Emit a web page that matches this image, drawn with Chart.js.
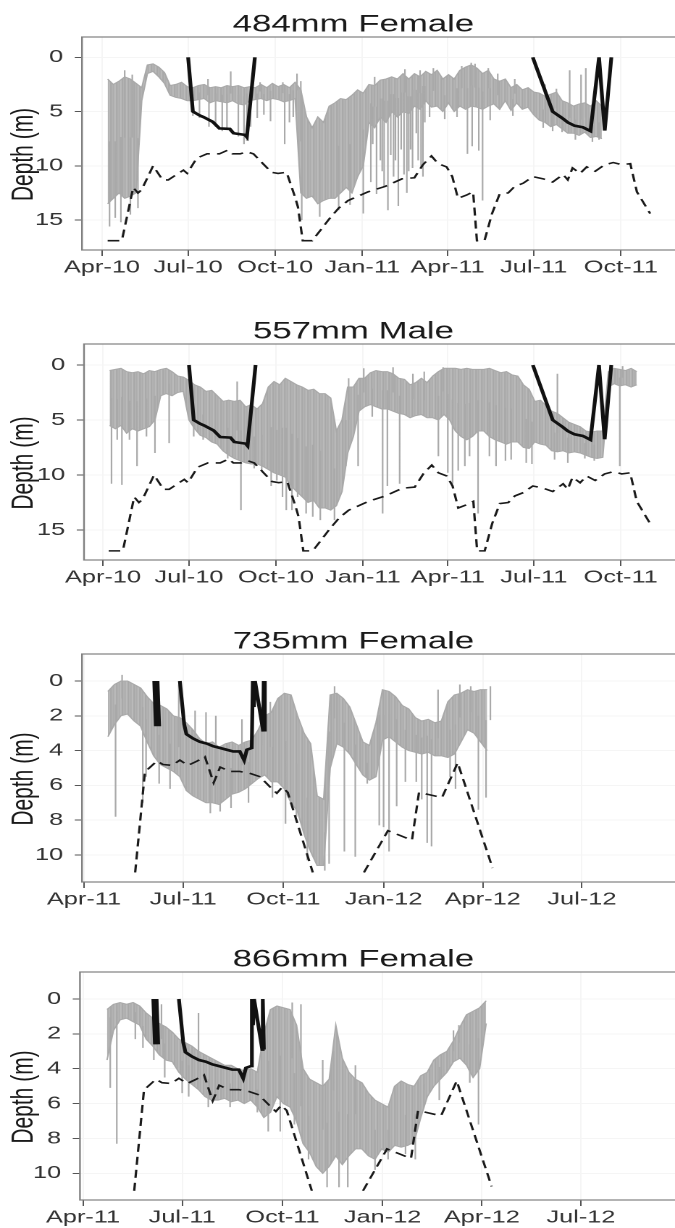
<!DOCTYPE html>
<html>
<head>
<meta charset="utf-8">
<title>Depth traces</title>
<script src="https://cdn.jsdelivr.net/npm/chart.js@4.4.1/dist/chart.umd.min.js"></script>
<style>
  html, body { margin: 0; padding: 0; background: #fff; overflow: hidden; width: 675px; height: 1228px; }
  /* the original figure is stretched sideways, so each chart is drawn narrow and widened */
  .panel { position: absolute; left: 0; width: 496px; transform: scaleX(1.4485); transform-origin: 0 0; }
</style>
</head>
<body>
<div class="panel" id="p1"><canvas></canvas></div>
<div class="panel" id="p2"><canvas></canvas></div>
<div class="panel" id="p3"><canvas></canvas></div>
<div class="panel" id="p4"><canvas></canvas></div>
<script>
// Days are counted from 1 Jan 2010
const monthNames = ['Jan', 'Feb', 'Mar', 'Apr', 'May', 'Jun', 'Jul', 'Aug', 'Sep', 'Oct', 'Nov', 'Dec'];
const xLabels2010 = ['Apr-10', 'Jul-10', 'Oct-10', 'Jan-11', 'Apr-11', 'Jul-11', 'Oct-11'];
const xLabels2011 = ['Apr-11', 'Jul-11', 'Oct-11', 'Jan-12', 'Apr-12', 'Jul-12'];
const yTicksDeep = [0, 5, 10, 15];
const yTicksShallow = [0, 2, 4, 6, 8, 10];

// dashed line, 2010-2011 fish
const dashDays2010 = [96, 111, 123, 128, 132, 144, 154, 160, 176, 180, 190, 201, 214, 223, 228, 236, 243, 250, 260, 269,
  276, 285, 294, 297, 302, 312, 322, 330, 340, 350, 371, 389, 407, 420, 429, 438, 445, 454, 460, 466,
  475, 482, 486, 494, 502, 510, 519, 526, 535, 545, 556, 566, 577, 582, 587, 595, 602, 611, 621, 630,
  639, 648, 655, 669];
const dashDepth2010 = [16.9, 16.9, 12.0, 12.5, 12.2, 10.0, 11.3, 11.3, 10.4, 10.7, 9.3, 8.9, 8.9, 8.55, 8.9, 8.9, 8.7, 8.9, 9.8, 10.6,
  10.7, 10.6, 12.9, 13.8, 16.9, 16.9, 15.8, 14.9, 13.9, 13.2, 12.4, 11.9, 11.2, 11.1, 9.9, 9.1, 9.8, 10.1, 11.0, 13.0,
  12.7, 12.4, 16.9, 16.9, 14.4, 12.6, 12.5, 11.9, 11.6, 11.0, 11.2, 11.5, 10.8, 11.3, 10.2, 10.7, 10.1, 10.5, 9.9, 9.7,
  9.9, 9.8, 12.4, 14.4];

// solid line, 2010-2011 fish
const solidDays2010 = [181, 186, 193, 197, 207, 214, 225, 229, 241, 243, 251.5, 400, 545, 566, 576, 582, 589, 598, 606, 615, 621, 628];
const solidDepth2010 = [0, 5.0, 5.35, 5.5, 5.95, 6.55, 6.6, 7.0, 7.15, 7.35, 0, null, 0, 5.0, 5.6, 6.0, 6.3, 6.45, 6.8, 0, 6.75, 0];

// dashed line, 2011-2012 fish
const dashDays2011 = [502, 511, 514, 522, 527.5, 536, 543, 550.5, 559, 566, 574, 580, 589, 598, 607, 616.5, 626, 632, 637, 642,
  651, 665, 690, 712, 734, 756, 762.5, 783.6, 798, 830];
const dashDepth2011 = [11.0, 5.2, 5.05, 4.6, 4.8, 4.85, 4.55, 4.85, 4.6, 4.35, 5.85, 4.95, 5.2, 5.2, 5.3, 5.5, 6.1, 6.45, 6.1, 6.4,
  8.2, 11.0, null, 11.0, 8.6, 9.15, 6.4, 6.7, 4.7, 10.75];

// solid line, 2011-2012 fish
const solidDays2011 = [519.5, 521, 522.5, 524, 533, 543, 547, 549, 555, 561.5, 568, 573.6, 580, 586, 592, 598, 602, 604.5, 609, 610,
  611, 612, 619.5, 620, 621];
const solidDepth2011 = [0, 2.6, 0, 2.6, null, 0, 2.5, 3.05, 3.3, 3.5, 3.6, 3.75, 3.85, 3.95, 4.05, 4.05, 4.55, 3.95, 3.85, 0,
  1.5, 0, 2.9, 0, 2.9];

// depth records: usual range (shallow / deep edge) every 6 days from the start day,
// plus the single dives and rises that stick out of it
const bandStep = 6;

const start484 = 96;
const shallow484 = [2.0, 2.5, 2.2, 1.8, 2.0, 2.4, 2.8, 0.7, 0.6, 0.9, 1.4, 2.6, 2.5, 2.3, 2.7, 2.8, 2.6, 2.5, 2.8, 2.7,
  2.8, 2.6, 2.7, 2.6, 2.8, 2.7, 2.8, 2.5, 2.8, 2.4, 2.7, 2.5, 2.8, 2.3, 3.0, 5.5, 6.5, 5.5, 6.0, 4.5,
  4.2, 3.8, 3.9, 3.5, 3.0, 3.3, 2.5, 2.6, 2.1, 2.0, 1.8, 2.0, 1.5, 2.0, 1.5, 1.8, 1.3, 1.6, 1.2, 2.0,
  1.6, 2.0, 1.2, 0.9, 0.7, 1.0, 1.5, 1.2, 2.0, 2.2, 2.0, 2.8, 2.5, 3.0, 2.8, 3.2, 3.3, 3.6, 3.4, 3.2,
  4.0, 4.2, 4.5, 4.3, 4.2, 4.5, 4.0, 4.5];
const deep484 = [13.5, 13.0, 12.5, 13.0, 12.8, 12.5, 4.0, 1.5, 1.3, 1.8, 2.4, 3.5, 3.7, 3.8, 4.0, 4.0, 3.9, 3.8, 4.2, 4.0,
  4.1, 4.2, 4.0, 4.3, 4.4, 4.0, 3.9, 3.8, 4.0, 3.8, 3.9, 4.1, 4.0, 3.8, 12.5, 13.0, 12.8, 13.5, 13.2, 13.0,
  13.0, 12.5, 12.0, 12.5, 11.0, 10.0, 6.0, 6.5, 5.5, 6.0, 5.0, 5.5, 5.0, 5.2, 4.5, 4.8, 4.0, 4.6, 4.5, 5.0,
  4.2, 5.0, 4.5, 4.8, 4.5, 4.6, 4.8, 4.5, 4.3, 4.8, 4.0, 4.9, 4.2, 4.8, 4.6, 5.3, 5.8, 6.0, 6.4, 6.2,
  6.6, 7.0, 7.0, 7.2, 6.9, 7.4, 7.3, 7.5];
const spikeDays484 = [98, 104, 110, 114, 120, 122, 128, 186, 193, 202, 203, 210, 217, 222, 226, 234, 240, 243, 247, 254,
  257, 261, 268, 281, 283, 288, 292, 296, 300, 301, 320, 340, 352, 366, 374, 376, 378, 380, 384, 386,
  388, 392, 395, 398, 400, 403, 406, 409, 410, 412, 414, 416, 418, 422, 424, 426, 427, 429, 431, 436,
  440, 452, 465, 470, 476, 480, 481, 484, 488, 492, 498, 500, 508, 524, 526, 556, 558, 566, 570, 576,
  584, 590, 596, 601, 608, 615];
const spikeDepth484 = [15.6, 14.8, 15.2, 1.2, 14.5, 1.6, 13.9, 5.4, 5.6, 2.0, 6.4, 6.4, 6.8, 6.7, 1.3, 7.3, 8.0, 7.7, 6.4, 5.6,
  2.3, 5.3, 5.9, 2.3, 8.0, 6.0, 5.5, 1.5, 2.2, 15.0, 14.7, 14.1, 13.6, 14.4, 11.5, 8.0, 1.8, 12.6, 9.5, 10.5,
  12.0, 14.1, 9.0, 11.0, 9.5, 13.7, 8.5, 10.8, 1.1, 12.5, 10.5, 8.5, 10.2, 7.0, 9.5, 1.2, 10.3, 11.0, 6.0, 5.5,
  1.0, 5.7, 5.5, 0.8, 8.9, 0.5, 8.2, 0.6, 8.6, 13.2, 1.0, 5.8, 1.5, 5.4, 2.0, 6.5, 2.5, 6.8, 2.9, 6.9,
  1.2, 7.6, 1.6, 1.0, 7.8, 7.6];

const start557 = 97;
const shallow557 = [0.5, 0.4, 0.3, 0.6, 0.7, 0.6, 0.8, 0.5, 0.6, 0.4, 0.3, 0.6, 1.0, 1.1, 1.4, 1.8, 2.0, 2.4, 2.3, 2.8,
  3.3, 3.2, 3.3, 3.2, 3.8, 3.6, 4.0, 3.5, 2.0, 1.5, 1.8, 1.2, 1.5, 1.8, 2.0, 2.3, 2.2, 2.6, 2.6, 3.0,
  6.0, 5.0, 2.0, 2.0, 1.2, 1.2, 0.7, 0.5, 0.6, 0.6, 0.8, 1.2, 1.3, 1.8, 1.6, 1.2, 1.6, 1.0, 0.6, 0.3,
  0.3, 0.3, 0.4, 0.3, 0.4, 0.4, 0.4, 0.3, 0.5, 0.7, 0.6, 0.9, 1.0, 1.8, 2.2, 3.3, 3.2, 3.7, 4.2, 4.4,
  4.8, 5.2, 5.4, 5.6, 6.0, 6.1, 6.0, 6.0, 0.6, 0.3, 0.4, 0.5, 0.3, 0.6];
const deep557 = [5.5, 5.8, 5.5, 6.2, 5.8, 6.0, 5.8, 5.6, 5.0, 2.8, 2.6, 2.8, 2.5, 2.4, 5.0, 5.8, 6.4, 6.6, 7.0, 7.2,
  7.8, 8.2, 8.5, 8.7, 8.9, 9.0, 9.0, 9.2, 9.5, 9.8, 10.0, 10.2, 11.0, 11.5, 12.0, 12.5, 12.3, 13.0, 13.0, 13.2,
  12.8, 11.5, 8.0, 6.5, 4.2, 3.8, 3.6, 3.8, 4.0, 4.0, 4.2, 4.4, 4.5, 4.8, 4.6, 4.5, 4.8, 4.8, 5.0, 4.5,
  5.0, 6.0, 6.5, 6.8, 6.5, 6.0, 6.0, 6.5, 6.8, 7.0, 7.2, 7.0, 7.0, 7.5, 7.6, 7.0, 7.2, 7.3, 7.8, 7.9,
  7.8, 8.0, 7.9, 8.0, 8.2, 8.4, 8.5, 8.4, 2.0, 1.7, 1.9, 1.8, 2.0, 1.8];
const spikeDays557 = [99, 105, 110, 118, 126, 136, 145, 160, 186, 196, 222, 232, 236, 250, 258, 268, 274, 280, 284, 290,
  296, 305, 312, 320, 335, 347, 350, 360, 366, 375, 386, 391, 397, 404, 418, 430, 445, 450, 455, 460,
  466, 473, 478, 487, 499, 506, 516, 522, 538, 544, 568, 571, 582, 600, 610, 637, 640];
const spikeDepth557 = [10.8, 6.8, 10.9, 6.8, 9.2, 6.5, 8.0, 7.1, 6.5, 6.8, 8.5, 1.5, 13.2, 9.4, 9.6, 11.0, 10.5, 12.0, 13.2, 13.2,
  12.0, 13.5, 13.8, 14.1, 14.1, 9.2, 1.2, 9.2, 0.3, 4.7, 13.5, 11.0, 0.2, 10.8, 0.8, 0.6, 8.3, 0.2, 9.8, 10.8,
  9.6, 9.2, 8.3, 13.5, 8.3, 9.2, 8.7, 8.6, 8.9, 9.0, 8.6, 0.8, 8.9, 8.5, 8.7, 9.2, 0.1];

const start735 = 477;
const shallow735 = [0.6, 0.2, 0.0, 0.0, 0.2, 0.4, 0.9, 1.3, 1.4, 1.6, 2.0, 2.1, 2.4, 2.8, 3.3, 3.6, 3.5, 3.8, 3.6, 3.5,
  3.7, 3.5, 3.4, 2.8, 2.0, 1.8, 1.0, 0.7, 0.8, 2.0, 3.0, 3.6, 6.6, 6.8, 0.8, 0.7, 1.0, 1.5, 2.5, 3.5,
  3.7, 2.4, 0.5, 0.6, 0.9, 1.4, 1.6, 2.1, 2.3, 2.2, 2.4, 2.3, 1.2, 0.8, 0.7, 0.5, 0.6, 0.5, 0.5];
const deep735 = [3.2, 2.5, 2.0, 1.9, 2.3, 2.6, 3.5, 4.3, 4.8, 5.0, 5.2, 5.5, 6.3, 6.6, 6.8, 7.0, 7.0, 7.1, 6.8, 6.5,
  6.4, 6.2, 5.9, 5.6, 5.4, 5.8, 5.8, 6.2, 7.0, 7.5, 8.8, 9.8, 10.6, 10.6, 5.0, 3.6, 3.8, 4.2, 4.8, 5.4,
  5.7, 5.5, 3.4, 3.2, 3.5, 3.8, 4.0, 4.1, 4.2, 4.1, 4.3, 4.3, 4.4, 4.2, 3.5, 2.8, 3.0, 3.5, 4.0];
const spikeDays735 = [484, 490, 509, 512, 524, 534, 542, 557, 567, 571, 576, 580, 590, 600, 606, 618, 626, 628, 640, 650,
  660, 676, 680, 685, 694, 704, 715, 726, 730, 735, 742, 750, 760, 765, 770, 774, 780, 791, 796, 800,
  810, 817, 824, 828];
const spikeDepth735 = [7.8, -0.35, 7.0, 5.5, 5.9, 6.2, 0.2, 1.7, 1.8, 7.6, 2.0, 7.5, 7.3, 2.2, 7.0, 1.5, 1.2, 6.7, 8.2, 7.8,
  10.3, 10.9, 10.5, 0.3, 9.8, 10.1, 5.9, 8.3, 8.4, 9.8, 7.2, 5.8, 5.8, 6.8, 9.3, 9.5, 0.5, 5.5, 6.2, 0.2,
  0.3, 7.4, 6.7, 0.3];

const start866 = 477;
const shallow866 = [0.6, 0.3, 0.2, 0.3, 0.2, 0.4, 0.8, 1.1, 1.4, 1.6, 1.9, 2.3, 2.5, 2.7, 3.0, 3.2, 3.4, 3.6, 3.8, 3.8,
  4.0, 4.1, 4.0, 4.2, 2.0, 0.6, 0.4, 0.5, 0.6, 1.5, 4.0, 4.6, 4.8, 5.0, 4.6, 1.5, 3.4, 4.2, 4.6, 4.8,
  5.4, 5.8, 6.0, 6.2, 5.0, 4.7, 4.9, 5.0, 4.4, 4.2, 3.5, 3.2, 3.0, 2.4, 1.6, 0.9, 0.7, 0.5, 0.1];
const deep866 = [3.5, 1.8, 1.2, 1.1, 1.3, 1.5, 2.3, 2.7, 3.2, 3.5, 3.6, 4.2, 4.6, 4.9, 5.2, 5.6, 5.8, 5.8, 5.7, 5.9,
  5.8, 6.0, 5.8, 6.2, 6.8, 6.5, 5.6, 6.0, 6.2, 7.0, 8.3, 8.8, 9.6, 10.0, 9.6, 9.0, 9.5, 9.0, 8.6, 8.6,
  9.0, 9.2, 8.6, 8.8, 8.4, 8.5, 8.4, 8.2, 6.8, 5.6, 5.0, 4.6, 4.2, 3.6, 3.4, 3.8, 4.5, 4.0, 1.4];
const spikeDays866 = [480, 486, 503, 510, 520, 527, 530, 546, 552, 561, 570, 590, 615, 625, 636, 647, 649, 655, 662, 675,
  679, 685, 690, 698, 705, 723, 735, 751, 760, 768, 782, 795, 800, 810, 818];
const spikeDepth866 = [5.1, 8.3, 2.3, 2.8, 3.5, 0.3, 4.5, 5.4, 5.6, 0.8, 6.2, 6.2, 6.5, 7.6, 7.6, 0.2, 7.2, 0.3, 9.2, 3.5,
  10.8, 3.0, 10.8, 10.8, 3.8, 9.8, 9.2, 8.9, 9.2, 5.2, 5.8, 1.8, 1.5, 4.8, 7.2];

// turn 'Apr-10' into a day number
function labelToDay(label) {
  const [mon, yy] = label.split('-');
  const t = Date.UTC(2000 + Number(yy), monthNames.indexOf(mon), 1);
  return Math.round((t - Date.UTC(2010, 0, 1)) / 864e5);
}

function toPoints(days, depths) {
  return days.map((d, i) => ({ x: d, y: depths[i] }));
}

function bandPoints(start, values) {
  return values.map((v, i) => ({ x: start + i * bandStep, y: v }));
}

// each spike is a thin vertical stroke from the middle of the usual range out to its tip
function spikePoints(p) {
  const pts = [];
  p.spikeDays.forEach((d, i) => {
    const k = Math.min(p.shallow.length - 1, Math.max(0, Math.round((d - p.start) / bandStep)));
    const mid = (p.shallow[k] + p.deep[k]) / 2;
    pts.push({ x: d, y: mid }, { x: d, y: p.spikeDepth[i] }, { x: d, y: null });
  });
  return pts;
}

// fine vertical hatching so the filled range reads like a dense trace
function hatch() {
  const c = document.createElement('canvas');
  c.width = 4;
  c.height = 1;
  const g = c.getContext('2d');
  ['#a4a4a4', '#b6b6b6', '#aaaaaa', '#c0c0c0'].forEach((col, i) => {
    g.fillStyle = col;
    g.fillRect(i, 0, 1, 1);
  });
  return g.createPattern(c, 'repeat');
}

Chart.defaults.font.family = "'Liberation Sans', Arial, Helvetica, sans-serif";

// box round the plotting area
const frame = {
  id: 'frame',
  afterDatasetsDraw(chart) {
    const { ctx, chartArea: a } = chart;
    ctx.save();
    ctx.strokeStyle = '#808080';
    ctx.lineWidth = 1.2;
    ctx.strokeRect(a.left, a.top, a.right - a.left, a.bottom - a.top);
    ctx.restore();
  }
};

// y axis title, sits a little below the middle like the original
const depthLabel = {
  id: 'depthLabel',
  afterDraw(chart) {
    const { ctx, chartArea: a } = chart;
    ctx.save();
    ctx.translate(16.6, (a.top + a.bottom) / 2 + 11);
    ctx.rotate(-Math.PI / 2);
    ctx.font = "21px 'Liberation Sans', Arial, sans-serif";
    ctx.fillStyle = '#1a1a1a';
    ctx.textAlign = 'center';
    ctx.textBaseline = 'middle';
    ctx.fillText('Depth (m)', 0, 0);
    ctx.restore();
  }
};

const panels = [
  { id: 'p1', title: '484mm Female', top: 9, height: 271, axisWidth: 56.6, xMin: 68.9, xMax: 728.9, yMin: -1.87, yMax: 17.76,
    xLabels: xLabels2010, yTicks: yTicksDeep, start: start484, shallow: shallow484, deep: deep484,
    spikeDays: spikeDays484, spikeDepth: spikeDepth484,
    dashDays: dashDays2010, dashDepth: dashDepth2010, solidDays: solidDays2010, solidDepth: solidDepth2010 },
  { id: 'p2', title: '557mm Male', top: 316, height: 274, axisWidth: 58, xMin: 69.9, xMax: 729.2, yMin: -1.91, yMax: 17.73,
    xLabels: xLabels2010, yTicks: yTicksDeep, start: start557, shallow: shallow557, deep: deep557,
    spikeDays: spikeDays557, spikeDepth: spikeDepth557,
    dashDays: dashDays2010, dashDepth: dashDepth2010, solidDays: solidDays2010, solidDepth: solidDepth2010 },
  { id: 'p3', title: '735mm Female', top: 626, height: 286, axisWidth: 56.6, xMin: 453.2, xMax: 1026.7, yMin: -1.55, yMax: 11.55,
    xLabels: xLabels2011, yTicks: yTicksShallow, start: start735, shallow: shallow735, deep: deep735,
    spikeDays: spikeDays735, spikeDepth: spikeDepth735,
    dashDays: dashDays2011, dashDepth: dashDepth2011, solidDays: solidDays2011, solidDepth: solidDepth2011 },
  { id: 'p4', title: '866mm Female', top: 944, height: 286, axisWidth: 55.2, xMin: 452.2, xMax: 1027.6, yMin: -1.55, yMax: 11.53,
    xLabels: xLabels2011, yTicks: yTicksShallow, start: start866, shallow: shallow866, deep: deep866,
    spikeDays: spikeDays866, spikeDepth: spikeDepth866,
    dashDays: dashDays2011, dashDepth: dashDepth2011, solidDays: solidDays2011, solidDepth: solidDepth2011 }
];

const traceGrey = '#a9a9a9';
const bandFill = hatch();

panels.forEach(p => {
  const box = document.getElementById(p.id);
  box.style.top = p.top + 'px';
  box.style.height = p.height + 'px';
  const tickDays = p.xLabels.map(labelToDay);

  new Chart(box.querySelector('canvas'), {
    type: 'line',
    data: {
      datasets: [
        { data: bandPoints(p.start, p.shallow), borderColor: traceGrey, borderWidth: 1, pointRadius: 0, fill: false, order: 5 },
        { data: bandPoints(p.start, p.deep), borderColor: traceGrey, borderWidth: 1, pointRadius: 0,
          fill: '-1', backgroundColor: bandFill, order: 5 },
        { data: spikePoints(p), borderColor: traceGrey, borderWidth: 1.1, pointRadius: 0, spanGaps: false, order: 4 },
        { data: toPoints(p.dashDays, p.dashDepth), borderColor: '#1a1a1a', borderWidth: 1.6, borderDash: [8, 5],
          pointRadius: 0, spanGaps: false, order: 2 },
        { data: toPoints(p.solidDays, p.solidDepth), borderColor: '#111', borderWidth: 2.6, pointRadius: 0,
          spanGaps: false, order: 1 }
      ]
    },
    options: {
      animation: false,
      responsive: true,
      maintainAspectRatio: false,
      devicePixelRatio: 2,
      layout: { padding: { top: 4, right: 8, bottom: 0, left: 0 } },
      plugins: {
        legend: { display: false },
        tooltip: { enabled: false },
        title: {
          display: true,
          text: p.title,
          color: '#1a1a1a',
          padding: 0,
          font: { size: 24, weight: 'normal', lineHeight: 1 }
        }
      },
      scales: {
        x: {
          type: 'linear',
          min: p.xMin,
          max: p.xMax,
          afterFit: s => { s.height = 30; },
          afterBuildTicks: s => { s.ticks = tickDays.map(v => ({ value: v })); },
          ticks: {
            autoSkip: false,
            maxRotation: 0,
            padding: 1,
            color: '#333',
            font: { size: 17.5 },
            callback: (v, i) => p.xLabels[i]
          },
          grid: { color: '#f5f5f5', tickColor: '#555', tickLength: 6 },
          border: { display: false }
        },
        y: {
          type: 'linear',
          reverse: true,
          min: p.yMin,
          max: p.yMax,
          afterFit: s => { s.width = p.axisWidth; },
          afterBuildTicks: s => { s.ticks = p.yTicks.map(v => ({ value: v })); },
          ticks: { padding: 8, color: '#333', font: { size: 17.5 } },
          grid: { color: '#f5f5f5', tickColor: '#555', tickLength: 5 },
          border: { display: false }
        }
      }
    },
    plugins: [frame, depthLabel]
  });
});
</script>
</body>
</html>
